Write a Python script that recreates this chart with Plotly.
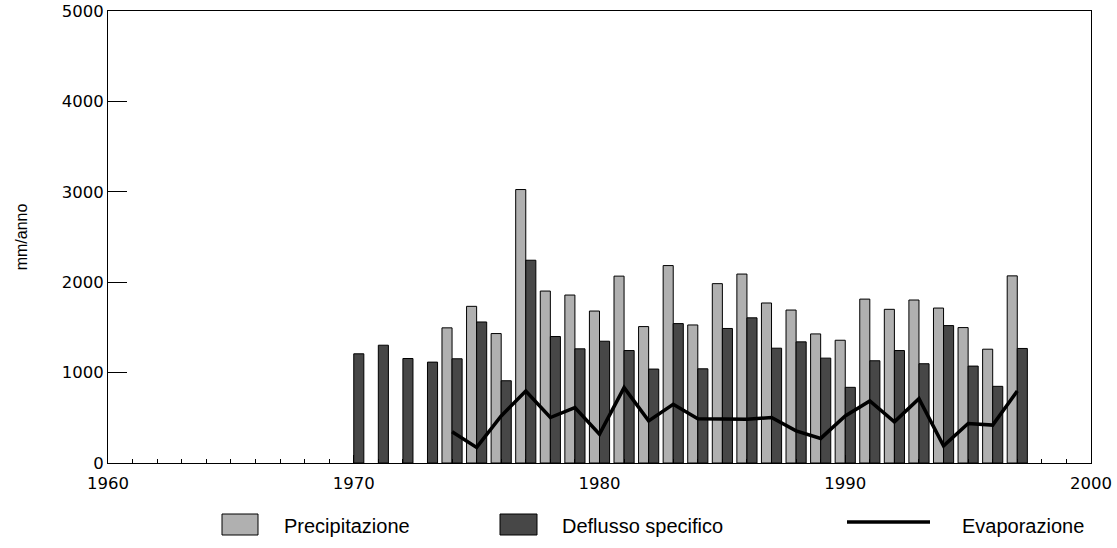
import plotly.graph_objects as go

# dati annuali (mm/anno)
anni = list(range(1970, 1998))
precipitazione = [None, None, None, None,
                  1495, 1733, 1432, 3025, 1902, 1858, 1681, 2067, 1509, 2184,
                  1527, 1984, 2090, 1770, 1692, 1428, 1358, 1813, 1700, 1803,
                  1714, 1498, 1259, 2070]
deflusso = [1208, 1303, 1156, 1116,
            1153, 1560, 910, 2243, 1399, 1263, 1347, 1244, 1039, 1542,
            1042, 1488, 1606, 1270, 1340, 1160, 837, 1131, 1244, 1098,
            1520, 1072, 848, 1267]
anni_evap = list(range(1974, 1998))
evaporazione = [345, 172, 521, 797, 503, 613, 319, 834, 466, 650,
                490, 488, 485, 503, 356, 272, 521, 686, 455, 712,
                190, 437, 419, 797]

GRIGIO = "#b0b0b0"
SCURO = "#474747"
FONT = "Liberation Sans, Arial, sans-serif"
FONT_TICK = "DejaVu Sans, sans-serif"

fig = go.Figure()
fig.add_trace(go.Bar(x=anni, y=precipitazione, name="Precipitazione",
                     marker=dict(color=GRIGIO, line=dict(color="black", width=1))))
fig.add_trace(go.Bar(x=anni, y=deflusso, name="Deflusso specifico",
                     marker=dict(color=SCURO, line=dict(color="black", width=1))))
fig.add_trace(go.Scatter(x=anni_evap, y=evaporazione, name="Evaporazione",
                         mode="lines", line=dict(color="black", width=3.5)))

# area del grafico in pixel: x 108-1091, y 11-463
L, R, T, B = 108, 1091, 11, 463
def px(x):
    return (x - L) / (R - L)
def py(y):
    return (B - y) / (B - T)

# legenda disegnata a mano (riquadri grandi come nell'originale)
voci = [("rect", GRIGIO, 222, 258, 282, "Precipitazione"),
        ("rect", SCURO, 500, 537, 560, "Deflusso specifico"),
        ("line", "black", 847, 930, 960, "Evaporazione")]
for tipo, col, x0, x1, xt, testo in voci:
    if tipo == "rect":
        fig.add_shape(type="rect", xref="paper", yref="paper",
                      x0=px(x0), x1=px(x1), y0=py(514), y1=py(535),
                      fillcolor=col, line=dict(color="black", width=1))
    else:
        fig.add_shape(type="line", xref="paper", yref="paper",
                      x0=px(x0), x1=px(x1), y0=py(522), y1=py(522),
                      line=dict(color="black", width=3.5))
    fig.add_annotation(xref="paper", yref="paper", x=px(xt), y=py(526),
                       text=testo, showarrow=False, xanchor="left", yanchor="middle",
                       font=dict(size=20, color="black", family=FONT))

fig.update_layout(
    width=1117, height=548,
    margin=dict(l=L, r=1117 - R, t=T, b=548 - B),
    paper_bgcolor="white", plot_bgcolor="white",
    barmode="group", bargap=0.18, bargroupgap=0,
    showlegend=False,
    font=dict(family=FONT, size=15, color="black"),
)
fig.update_xaxes(range=[1960, 2000], tickmode="linear", tick0=1960, dtick=10,
                 ticks="inside", ticklen=8, tickcolor="black", automargin=False,
                 minor=dict(dtick=1, ticks="inside", ticklen=4, tickcolor="black"),
                 showline=True, linecolor="black", linewidth=1, mirror=True,
                 showgrid=False, zeroline=False, ticklabelstandoff=5,
                 tickfont=dict(size=16.5, family=FONT_TICK))
fig.update_yaxes(range=[0, 5000], tickmode="linear", tick0=0, dtick=1000,
                 ticks="inside", ticklen=19, tickcolor="black", automargin=False,
                 showline=True, linecolor="black", linewidth=1, mirror=True,
                 showgrid=False, zeroline=False,
                 tickfont=dict(size=16.5, family=FONT_TICK),
                 title=dict(text="mm/anno", font=dict(size=16, family=FONT), standoff=30))

# niente margine del body, così il grafico parte dall'angolo della finestra
fig.write_html("out.html", config={"displayModeBar": False},
               post_script="document.body.style.margin='0';")
